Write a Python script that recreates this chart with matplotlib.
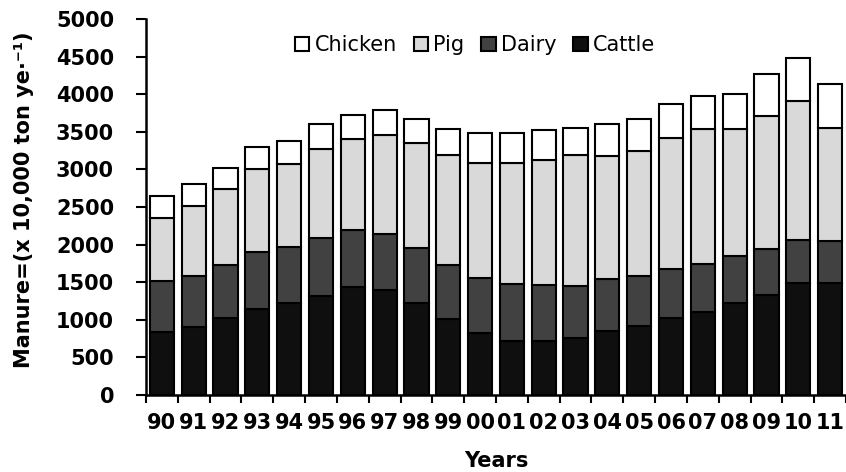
import numpy as np
import matplotlib
matplotlib.use('Agg')
import matplotlib.pyplot as plt

# Livestock manure by year (x 10,000 ton per year)
years = ['90', '91', '92', '93', '94', '95', '96', '97', '98', '99', '00',
         '01', '02', '03', '04', '05', '06', '07', '08', '09', '10', '11']
cattle = [834, 908, 1028, 1144, 1219, 1321, 1441, 1396, 1219, 1006, 820,
          722, 718, 762, 851, 922, 1028, 1108, 1228, 1330, 1485, 1494]
dairy = [686, 670, 697, 762, 753, 762, 753, 745, 731, 723, 731,
         754, 745, 692, 687, 660, 643, 634, 620, 611, 576, 554]
pig = [830, 935, 1014, 1095, 1100, 1192, 1214, 1312, 1401, 1458, 1534,
       1609, 1667, 1733, 1644, 1663, 1743, 1791, 1685, 1773, 1849, 1507]
chicken = [300, 293, 276, 292, 306, 325, 311, 333, 319, 350, 395,
           395, 394, 368, 418, 425, 452, 447, 465, 550, 567, 576]

series = [('Cattle', cattle, '#0f0f0f'),
          ('Dairy', dairy, '#414141'),
          ('Pig', pig, '#d9d9d9'),
          ('Chicken', chicken, '#ffffff')]

plt.rcParams['font.family'] = ['DejaVu Sans']

fig = plt.figure(figsize=(8.46, 4.72), dpi=100)
ax = fig.add_axes([146 / 846, 77 / 472, 700 / 846, 376 / 472])

x = np.arange(len(years))
bottom = np.zeros(len(years))
handles = []
for name, vals, color in series:
    b = ax.bar(x, vals, width=0.76, bottom=bottom, color=color,
               edgecolor='black', linewidth=1.5, label=name)
    handles.append(b)
    bottom += np.array(vals)

# legend order: Chicken, Pig, Dairy, Cattle
handles = handles[::-1]
ax.legend(handles, [h.get_label() for h in handles], loc='center',
          bbox_to_anchor=(0.47, 0.93), ncol=4, frameon=False,
          prop=dict(size=15), handlelength=0.7, handleheight=0.7,
          handletextpad=0.25, columnspacing=0.8, borderaxespad=0)

ax.set_xlim(-0.5, len(years) - 0.5)
ax.set_ylim(0, 5000)

ax.set_xticks(x)
ax.set_xticklabels(years, fontsize=15, fontweight='bold')
ax.set_xticks(np.arange(-0.5, len(years), 1), minor=True)
ax.tick_params(axis='x', which='major', length=0, pad=13)
ax.tick_params(axis='x', which='minor', length=6, width=1.5, direction='out')

ax.set_yticks(np.arange(0, 5001, 500))
ax.set_yticklabels([str(v) for v in range(0, 5001, 500)], fontsize=15, fontweight='bold')
ax.tick_params(axis='y', length=7, width=1.5, direction='out', pad=16)

for s in ['top', 'right']:
    ax.spines[s].set_visible(False)
for s in ['left', 'bottom']:
    ax.spines[s].set_linewidth(1.8)

ax.set_xlabel('Years', fontsize=15, fontweight='bold')
ax.xaxis.set_label_coords(0.5, -0.148)
ax.set_ylabel('Manure=(x 10,000 ton ye·⁻¹)', fontsize=15, fontweight='bold')
ax.yaxis.set_label_coords(-0.16, 0.52)

plt.savefig('out.png', dpi=100)
plt.close()
